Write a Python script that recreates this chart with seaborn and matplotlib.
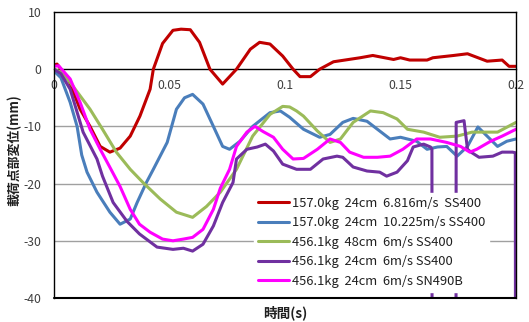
import numpy as np
import pandas as pd
import seaborn as sns
import matplotlib
matplotlib.use("Agg")
import matplotlib.pyplot as plt

sns.set_theme(style="white")
plt.rcParams['font.family'] = ['Noto Sans CJK JP', 'DejaVu Sans']

labels = [
    "157.0kg  24cm  6.816m/s  SS400",
    "157.0kg  24cm  10.225m/s SS400",
    "456.1kg  48cm  6m/s SS400",
    "456.1kg  24cm  6m/s SS400",
    "456.1kg  24cm  6m/s SN490B",
]
colors = ["#C00000", "#4A7EBB", "#9BBB59", "#7030A0", "#FF00FF"]

t_red = [0, 0.0013, 0.006, 0.0113, 0.0156, 0.020, 0.0242, 0.0286, 0.033, 0.0372, 0.0416, 0.043, 0.047,
         0.0515, 0.055, 0.059, 0.063, 0.0675, 0.073, 0.079, 0.085, 0.089, 0.0935, 0.099, 0.1035, 0.1065,
         0.111, 0.115, 0.121, 0.1325, 0.138, 0.147, 0.150, 0.154, 0.1615, 0.164, 0.173, 0.179, 0.1875,
         0.194, 0.197, 0.200]
v_red = [0.7, 0.9, -1.5, -7.0, -10.0, -13.5, -14.5, -13.8, -11.7, -8.2, -3.5, 0.0, 4.5,
         6.8, 7.0, 6.9, 4.7, 0.0, -2.6, 0.0, 3.5, 4.7, 4.4, 2.3, 0.0, -1.3,
         -1.3, 0.0, 1.3, 2.0, 2.4, 1.7, 2.0, 1.6, 1.6, 2.0, 2.4, 2.7, 1.4,
         1.6, 0.5, 0.5]

t_blue = [0, 0.003, 0.007, 0.010, 0.012, 0.0143, 0.0186, 0.0242, 0.0286, 0.033, 0.036, 0.040, 0.043,
          0.049, 0.053, 0.0565, 0.060, 0.0645, 0.069, 0.073, 0.076, 0.0805, 0.086, 0.0935, 0.098,
          0.102, 0.108, 0.115, 0.1195, 0.125, 0.1295, 0.1355, 0.140, 0.1455, 0.150, 0.157, 0.1615,
          0.166, 0.170, 0.1745, 0.179, 0.1835, 0.1875, 0.192, 0.196, 0.200]
v_blue = [-0.3, -1.5, -5.8, -10.0, -15.0, -18.0, -21.5, -25.0, -27.1, -26.2, -23.3, -19.8, -17.5,
          -12.8, -7.0, -5.0, -4.4, -6.1, -10.0, -13.5, -14.0, -12.6, -10.0, -7.6, -7.3,
          -8.4, -10.5, -11.9, -11.4, -9.3, -8.6, -9.1, -10.5, -12.2, -11.9, -12.6, -14.0,
          -13.6, -13.5, -15.2, -13.5, -10.1, -11.7, -13.5, -12.6, -12.2]

t_green = [0, 0.003, 0.007, 0.0156, 0.021, 0.027, 0.033, 0.0385, 0.046, 0.053, 0.060, 0.066, 0.072,
           0.079, 0.086, 0.0935, 0.099, 0.102, 0.105, 0.108, 0.114, 0.1195, 0.124, 0.1295, 0.137,
           0.1425, 0.1485, 0.153, 0.160, 0.167, 0.1745, 0.181, 0.192, 0.200]
v_green = [0.0, -0.5, -2.3, -7.0, -10.5, -14.5, -17.5, -19.8, -22.7, -25.0, -25.9, -24.0, -21.5,
           -17.5, -11.7, -7.9, -6.5, -6.6, -7.3, -8.2, -10.8, -12.8, -12.2, -9.3, -7.3,
           -7.6, -8.7, -10.5, -11.0, -11.9, -11.7, -11.0, -11.0, -9.3]

t_purple = [0, 0.003, 0.007, 0.0126, 0.0186, 0.021, 0.0256, 0.0316, 0.037, 0.0446, 0.0515, 0.056,
            0.060, 0.0645, 0.069, 0.073, 0.0775, 0.079, 0.0835, 0.088, 0.0915, 0.095, 0.099, 0.105,
            0.111, 0.1165, 0.1225, 0.125, 0.1295, 0.1355, 0.141, 0.144, 0.1485, 0.153, 0.1555,
            0.160, 0.163, 0.1636, 0.1637, 0.1740, 0.1741, 0.1775, 0.1790, 0.1805, 0.184, 0.190,
            0.194, 0.1985, 0.1997, 0.1998]
v_purple = [0.0, -0.8, -3.5, -11.0, -15.7, -18.7, -23.3, -26.6, -28.8, -31.1, -31.5, -31.3,
            -31.8, -30.6, -27.4, -23.3, -19.8, -15.7, -14.0, -13.6, -13.1, -14.3, -16.6, -17.5,
            -17.5, -15.7, -15.2, -15.4, -17.1, -17.8, -18.0, -18.7, -18.0, -16.0, -13.6,
            -13.1, -13.6, -14.0, -60.0, -60.0, -9.3, -9.0, -14.0, -14.5, -15.4, -15.2,
            -14.5, -14.5, -14.6, -60.0]

t_mag = [0, 0.002, 0.007, 0.0113, 0.0156, 0.020, 0.024, 0.0286, 0.033, 0.037, 0.0416, 0.047, 0.0515,
         0.056, 0.060, 0.0645, 0.069, 0.072, 0.076, 0.079, 0.0835, 0.087, 0.0905, 0.095, 0.099,
         0.1035, 0.108, 0.114, 0.1195, 0.124, 0.128, 0.134, 0.140, 0.1455, 0.151, 0.157, 0.163,
         0.170, 0.176, 0.180, 0.183, 0.189, 0.194, 0.200]
v_mag = [0.5, 0.6, -1.7, -5.8, -10.5, -14.0, -17.0, -20.5, -24.5, -27.1, -28.5, -29.7, -30.0,
         -29.7, -29.4, -28.0, -24.5, -20.8, -17.5, -13.5, -11.0, -10.0, -10.9, -11.9, -14.0,
         -15.7, -15.6, -14.0, -12.2, -12.8, -14.5, -15.4, -15.4, -15.2, -14.0, -12.2, -12.2,
         -12.8, -13.5, -14.5, -14.0, -12.6, -11.7, -10.5]

series_t = [t_red, t_blue, t_green, t_purple, t_mag]
series_v = [v_red, v_blue, v_green, v_purple, v_mag]

frames = []
for lab, tt, vv in zip(labels, series_t, series_v):
    frames.append(pd.DataFrame({"t": tt, "v": vv, "series": lab}))
df = pd.concat(frames, ignore_index=True)

fig = plt.figure(figsize=(5.29, 3.22), dpi=100)
ax = fig.add_axes([54/529, 1-298/322, (516-54)/529, (298-12)/322])

sns.lineplot(data=df, x="t", y="v", hue="series", hue_order=labels,
             palette=dict(zip(labels, colors)), sort=False, estimator=None,
             units="series", linewidth=2.2, ax=ax)

ax.set_xlim(0, 0.2)
ax.set_ylim(-40, 10)
ax.set_yticks([10, 0, -10, -20, -30, -40])
ax.set_yticklabels(["10", "0", "-10", "-20", "-30", "-40"])
ax.set_xticks([0, 0.05, 0.1, 0.15, 0.2])
ax.set_xticklabels(["0", "0.05", "0.1", "0.15", "0.2"])
for y in [-10, -20, -30]:
    ax.axhline(y, color="#A0A0A0", lw=1.0, zorder=0)
ax.set_xlabel("")
ax.set_ylabel("")

for s in ["top", "left", "right", "bottom"]:
    ax.spines[s].set_visible(True)
    ax.spines[s].set_color("black")
    ax.spines[s].set_linewidth(1.0)
ax.spines["bottom"].set_position(("data", 0))
ax.spines["bottom"].set_zorder(1)
ax.plot([0, 1], [0, 0], transform=ax.transAxes, color="black", lw=1.5, clip_on=False, zorder=6)

ax.tick_params(axis="x", direction="inout", length=8, width=1, color="black",
               labelsize=8.8, pad=3, labelcolor="#404040")
ax.tick_params(axis="y", length=0, labelsize=8.8, pad=9, labelcolor="#404040")

leg = ax.legend(loc="lower right", bbox_to_anchor=(0.955, 0.0), frameon=True,
                fontsize=9.3, handlelength=2.4, handletextpad=0.2, labelspacing=0.5,
                borderpad=0.3, fancybox=False)
leg.get_frame().set_facecolor("white")
leg.get_frame().set_edgecolor("white")
leg.get_frame().set_alpha(1)
for line in leg.get_lines():
    line.set_linewidth(2.2)
for txt in leg.get_texts():
    txt.set_color("#202020")
leg.set_zorder(5)

fig.text(14/529, 1-150/322, "載荷点部変位(mm)", rotation=90, ha="center", va="center",
         fontsize=9.3, fontweight="bold", color="#202020")
fig.text(285/529, 1-313/322, "時間(s)", ha="center", va="center",
         fontsize=9.8, fontweight="bold", color="#202020")

fig.savefig("out.png", dpi=100)
